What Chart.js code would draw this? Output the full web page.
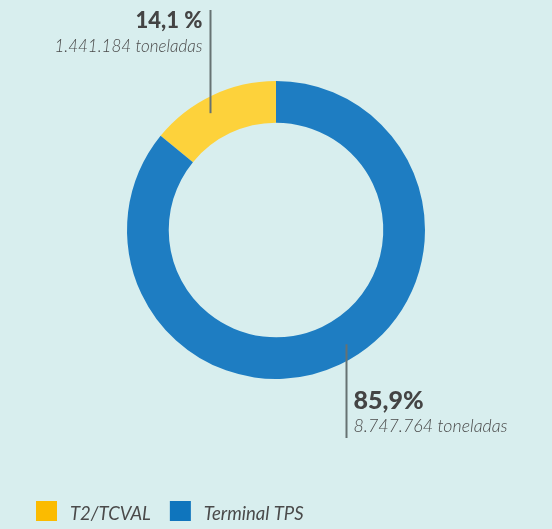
<!DOCTYPE html>
<html><head><meta charset="utf-8">
<script src="https://cdn.jsdelivr.net/npm/chart.js@4/dist/chart.umd.min.js"></script>
<style>
html,body{margin:0;padding:0;background:#d8eeee;}
#wrap{position:relative;width:552px;height:529px;}
</style></head>
<body><div id="wrap"><canvas id="c" width="552" height="529"></canvas></div>
<script>
const categories = ["T2/TCVAL", "Terminal TPS"];
const percentValues = [14.1, 85.9];
const percentLabels = ["14,1 %", "85,9%"];
const tonnageLabels = ["1.441.184 toneladas", "8.747.764 toneladas"];
const colors = ["#fdd23b", "#1e7dc2"];
const legendColors = ["#fbbb00", "#0f75bd"];

const labelPlugin = {
  id: 'labels',
  afterDraw(chart) {
    const ctx = chart.ctx;
    const meta = chart.getDatasetMeta(0);
    const frac = [0.42, 0.48];
    ctx.save();
    meta.data.forEach((arc, i) => {
      const p = arc.getProps(['x','y','startAngle','endAngle','innerRadius','outerRadius'], true);
      const a = p.startAngle + (p.endAngle - p.startAngle) * frac[i];
      const r = (p.innerRadius + p.outerRadius) / 2 + 6;
      const ax = Math.round(p.x + r * Math.cos(a)) + 0.5;
      const ay = p.y + r * Math.sin(a);
      ctx.strokeStyle = '#667272';
      ctx.lineWidth = 2;
      ctx.beginPath();
      if (i === 0) {
        ctx.moveTo(ax, 10); ctx.lineTo(ax, ay);
      } else {
        ctx.moveTo(ax, ay); ctx.lineTo(ax, 438);
      }
      ctx.stroke();
      ctx.fillStyle = '#444';
      ctx.textBaseline = 'alphabetic';
      if (i === 0) {
        ctx.textAlign = 'right';
        ctx.font = '900 22px Lato';
        ctx.fillText(percentLabels[i], ax - 8, 28);
        ctx.fillStyle = '#4a4a4a';
        ctx.font = 'italic 300 17px Lato';
        ctx.fillText(tonnageLabels[i], ax - 8, 52);
      } else {
        ctx.textAlign = 'left';
        ctx.font = '900 25px Lato';
        ctx.fillText(percentLabels[i], ax + 7, 409);
        ctx.fillStyle = '#4a4a4a';
        ctx.font = 'italic 300 17.8px Lato';
        ctx.fillText(tonnageLabels[i], ax + 7, 432);
      }
    });
    // legend
    let x = 36;
    ctx.textAlign = 'left';
    ctx.font = 'italic 18.5px Lato';
    categories.forEach((c, i) => {
      ctx.fillStyle = legendColors[i];
      ctx.fillRect(x, 501, 21, 20);
      ctx.fillStyle = '#4a4a4a';
      ctx.fillText(c, x + 34, 520);
      x += 34 + ctx.measureText(c).width + 19;
    });
    ctx.restore();
  }
};

new Chart(document.getElementById('c'), {
  type: 'doughnut',
  data: {
    labels: categories,
    datasets: [{ data: percentValues, backgroundColor: colors, borderWidth: 0, hoverOffset: 0 }]
  },
  options: {
    responsive: false,
    animation: false,
    rotation: -percentValues[0] / 100 * 360,
    cutout: '72%',
    layout: { padding: { left: 127, right: 127, top: 81, bottom: 150 } },
    plugins: { legend: { display: false }, tooltip: { enabled: false } }
  },
  plugins: [labelPlugin]
});
</script></body></html>
